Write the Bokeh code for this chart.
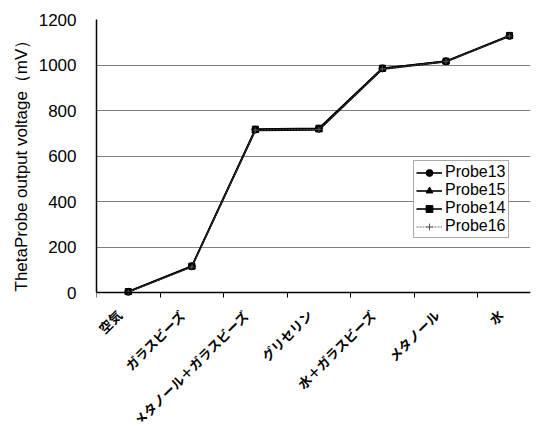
import math
from bokeh.plotting import figure
from bokeh.models import FixedTicker, Range1d, Legend, LegendItem, ColumnDataSource, Title
from bokeh.core.properties import value
from bokeh.embed import file_html
from bokeh.resources import INLINE

categories = ["空気", "ガラスビーズ", "メタノール＋ガラスビーズ", "グリセリン",
              "水＋ガラスビーズ", "メタノール", "水"]
probe13 = [3, 115, 716, 720, 985, 1016, 1128]
probe15 = [2, 113, 712, 715, 982, 1014, 1126]
probe14 = [4, 116, 718, 722, 986, 1017, 1130]
probe16 = [2, 112, 714, 717, 983, 1015, 1127]
y_ticks = [0, 200, 400, 600, 800, 1000, 1200]
y_title = "ThetaProbe output voltage（mV）"

xs = list(range(len(categories)))
Y_MAX = 1200
Y_MIN = -567  # room below the axis for the slanted category labels

p = figure(width=531, height=426, x_range=Range1d(-0.5, 6.33), y_range=Range1d(Y_MIN, Y_MAX),
           output_backend="svg", toolbar_location=None,
           min_border_left=96, min_border_top=19, min_border_bottom=5, min_border_right=1)
p.outline_line_color = None
p.background_fill_color = "white"

# grid
p.xgrid.visible = False
p.ygrid.ticker = FixedTicker(ticks=y_ticks)
p.ygrid.grid_line_color = "#808080"
p.ygrid.grid_line_width = 1

# y axis
yax = p.yaxis[0]
yax.ticker = FixedTicker(ticks=y_ticks)
yax.bounds = (0, Y_MAX)
yax.axis_line_color = "black"
yax.axis_line_width = 1.5
yax.major_tick_out = 0
yax.major_tick_in = 0
yax.minor_tick_out = 0
yax.minor_tick_in = 0
yax.major_label_standoff = 20
yax.major_label_text_font = "Liberation Sans"
yax.major_label_text_font_size = "17px"
yax.major_label_text_color = "black"

# y axis title, starting level with the zero line
p.add_layout(Title(text=y_title, align="left", offset=130, standoff=10,
                   text_font="Liberation Sans", text_font_size="17px",
                   text_font_style="normal", text_color="black"), "left")

# x axis drawn at y = 0 with boundary ticks only
xax = p.xaxis[0]
xax.fixed_location = 0
xax.ticker = FixedTicker(ticks=[], minor_ticks=[i - 0.5 for i in range(len(categories) + 1)])
xax.axis_line_color = "black"
xax.axis_line_width = 1.5
xax.major_tick_out = 0
xax.major_tick_in = 0
xax.minor_tick_out = 5
xax.minor_tick_in = 0
xax.minor_tick_line_color = "black"

# slanted category labels
p.text(x=xs, y=[0] * len(xs), text=categories, angle=math.pi / 4,
       text_align="right", text_baseline="middle", x_offset=-9, y_offset=20,
       text_font=value("Noto Sans CJK JP"), text_font_size=value("13px"),
       text_font_style="bold", text_color="black")

series = [
    ("Probe13", probe13, "circle", 7, "black", 1.6, "solid"),
    ("Probe15", probe15, "triangle", 7, "black", 1.6, "solid"),
    ("Probe14", probe14, "square", 6, "black", 1.6, "solid"),
    ("Probe16", probe16, "cross", 5, "#555555", 0.8, "2 1"),
]

items = []
for name, vals, marker, size, color, lw, dash in series:
    src = ColumnDataSource(data=dict(x=xs, y=vals))
    lr = p.line("x", "y", source=src, line_color=color, line_width=lw, line_dash=dash)
    sr = p.scatter("x", "y", source=src, marker=marker, size=size,
                   fill_color=color, line_color=color)
    items.append(LegendItem(label=name, renderers=[lr, sr]))

legend = Legend(items=items, location=(317, 183))
legend.border_line_color = "#555555"
legend.border_line_width = 1
legend.background_fill_color = "white"
legend.background_fill_alpha = 1
legend.label_text_font = "Liberation Sans"
legend.label_text_font_size = "16px"
legend.label_text_color = "black"
legend.glyph_width = 26
legend.glyph_height = 17
legend.label_standoff = 3
legend.label_height = 17
legend.spacing = 0
legend.padding = 2
legend.margin = 0
p.add_layout(legend)

open("out.html", "w").write(file_html(p, INLINE))
